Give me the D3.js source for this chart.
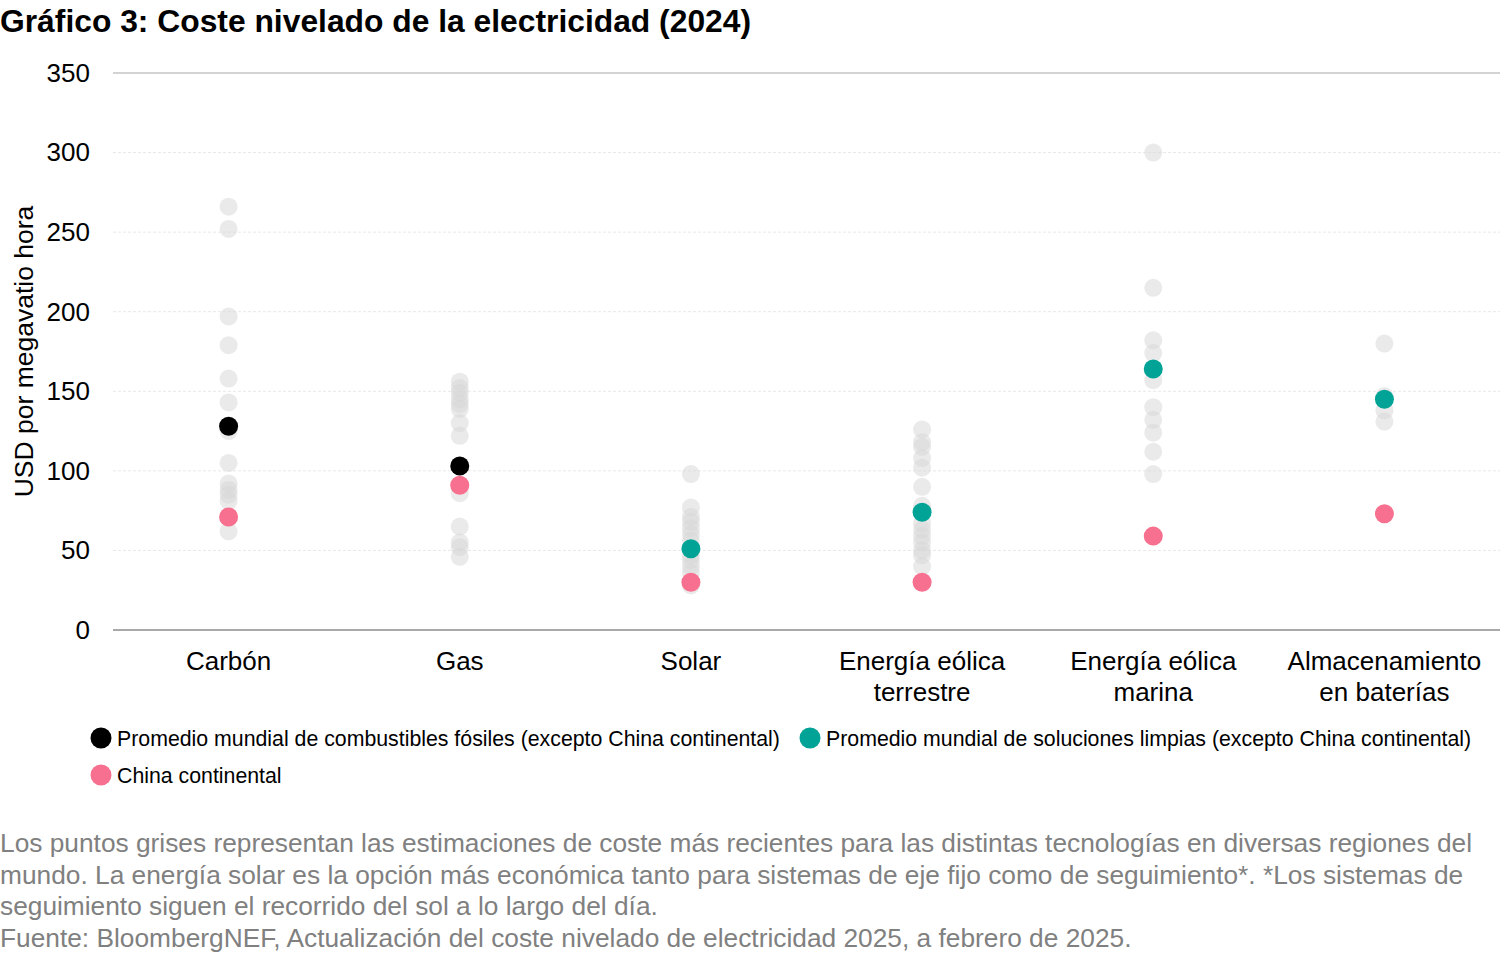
<!DOCTYPE html>
<html>
<head>
<meta charset="utf-8">
<script src="https://cdn.jsdelivr.net/npm/d3@7"></script>
<style>
  body { margin: 0; background: #fff; }
  text { font-family: "Liberation Sans", Arial, sans-serif; }
</style>
</head>
<body>
<div id="chart"></div>
<script>
// categories and their two-line labels
var categories = ["Carbón", "Gas", "Solar", "Eólica terrestre", "Eólica marina", "Baterías"];
var catLabels = [["Carbón"], ["Gas"], ["Solar"], ["Energía eólica", "terrestre"], ["Energía eólica", "marina"], ["Almacenamiento", "en baterías"]];

// grey dots: regional estimates
var greyCarbon   = [266, 252, 197, 179, 158, 143, 125, 105, 92, 88, 85, 81, 62];
var greyGas      = [156, 152, 149, 145, 142, 139, 130, 122, 86, 65, 55, 52, 46];
var greySolar    = [98, 77, 71, 68, 64, 60, 56, 47, 44, 40, 36, 28];
var greyOnshore  = [126, 118, 115, 108, 102, 90, 78, 67, 63, 59, 55, 50, 47, 40];
var greyOffshore = [300, 215, 182, 174, 157, 140, 132, 124, 112, 98];
var greyBattery  = [180, 147, 138, 131];

// highlighted series (null = not shown)
var fossilAvg = [128, 103, null, null, null, null];
var cleanAvg  = [null, null, 51, 74, 164, 145];
var chinaVals = [71, 91, 30, 30, 59, 73];

var yTicks = [0, 50, 100, 150, 200, 250, 300, 350];

var legendItems = [
  {label: "Promedio mundial de combustibles fósiles (excepto China continental)", color: "#000000"},
  {label: "Promedio mundial de soluciones limpias (excepto China continental)", color: "#00a396"},
  {label: "China continental", color: "#f7708f"}
];

var footLines = [
  "Los puntos grises representan las estimaciones de coste más recientes para las distintas tecnologías en diversas regiones del",
  "mundo. La energía solar es la opción más económica tanto para sistemas de eje fijo como de seguimiento*. *Los sistemas de",
  "seguimiento siguen el recorrido del sol a lo largo del día.",
  "Fuente: BloombergNEF, Actualización del coste nivelado de electricidad 2025, a febrero de 2025."
];

var width = 1500, height = 953;
var margin = {top: 73, left: 113, right: 0, bottom: 323};

var svg = d3.select("#chart").append("svg")
    .attr("width", width)
    .attr("height", height);

var xScale = d3.scalePoint()
    .domain(categories)
    .range([margin.left, width - margin.right])
    .padding(0.5);

var yScale = d3.scaleLinear()
    .domain([0, 350])
    .range([height - margin.bottom, margin.top]);

// title
svg.append("text")
    .attr("x", 0).attr("y", 32)
    .attr("font-size", 31.8).attr("font-weight", "bold")
    .attr("fill", "#000")
    .text("Gráfico 3: Coste nivelado de la electricidad (2024)");

// gridlines
svg.append("g").selectAll("line").data(yTicks)
    .join("line")
    .attr("x1", margin.left).attr("x2", width)
    .attr("y1", d => yScale(d)).attr("y2", d => yScale(d))
    .attr("stroke", d => d === 0 ? "#8c8c8c" : (d === 350 ? "#c4c4c4" : "#e8e8e8"))
    .attr("stroke-width", d => (d === 0 || d === 350) ? 1.3 : 1)
    .attr("stroke-dasharray", d => (d === 0 || d === 350) ? null : "3,2");

// y axis labels
var yAxis = svg.append("g")
    .attr("transform", "translate(90,0)")
    .call(d3.axisLeft(yScale).tickValues(yTicks).tickSize(0).tickPadding(0));
yAxis.select(".domain").remove();
yAxis.selectAll(".tick text")
    .attr("font-size", 26)
    .attr("font-family", "Liberation Sans, Arial, sans-serif")
    .attr("fill", "#000");

svg.append("text")
    .attr("transform", "translate(33," + yScale(175) + ") rotate(-90)")
    .attr("text-anchor", "middle")
    .attr("font-size", 26.5)
    .attr("fill", "#000")
    .text("USD por megavatio hora");

// category labels
var catG = svg.append("g").selectAll("text").data(categories)
    .join("text")
    .attr("x", d => xScale(d))
    .attr("y", 670)
    .attr("text-anchor", "middle")
    .attr("font-size", 26)
    .attr("fill", "#000");
catG.selectAll("tspan").data((d, i) => catLabels[i])
    .join("tspan")
    .attr("x", function() { return d3.select(this.parentNode).attr("x"); })
    .attr("dy", (d, i) => i === 0 ? 0 : 31)
    .text(d => d);

// grey dots
var greySets = [greyCarbon, greyGas, greySolar, greyOnshore, greyOffshore, greyBattery];
var greyData = [];
greySets.forEach(function(arr, i) {
    arr.forEach(function(v) { greyData.push({cat: categories[i], v: v}); });
});

svg.append("g").selectAll("circle").data(greyData)
    .join("circle")
    .attr("cx", d => xScale(d.cat))
    .attr("cy", d => yScale(d.v))
    .attr("r", 9)
    .attr("fill", "#d6d6d6")
    .attr("opacity", 0.5);

function drawSeries(vals, color) {
    var pts = vals.map((v, i) => ({cat: categories[i], v: v})).filter(d => d.v !== null);
    svg.append("g").selectAll("circle").data(pts)
        .join("circle")
        .attr("cx", d => xScale(d.cat))
        .attr("cy", d => yScale(d.v))
        .attr("r", 9.5)
        .attr("fill", color);
}
drawSeries(chinaVals, legendItems[2].color);
drawSeries(fossilAvg, legendItems[0].color);
drawSeries(cleanAvg, legendItems[1].color);

// legend
var legendPos = [{x: 101, y: 738}, {x: 810, y: 738}, {x: 101, y: 775}];
var leg = svg.append("g").selectAll("g").data(legendItems)
    .join("g")
    .attr("transform", (d, i) => "translate(" + legendPos[i].x + "," + legendPos[i].y + ")");
leg.append("circle").attr("r", 10.5).attr("fill", d => d.color);
leg.append("text")
    .attr("x", 16).attr("y", 8)
    .attr("font-size", 21.3)
    .attr("fill", "#000")
    .text(d => d.label);

// footnote
svg.append("g").selectAll("text").data(footLines)
    .join("text")
    .attr("x", 0)
    .attr("y", (d, i) => 852 + i * 31.5)
    .attr("font-size", 26.3)
    .attr("fill", "#808080")
    .text(d => d);
</script>
</body>
</html>
